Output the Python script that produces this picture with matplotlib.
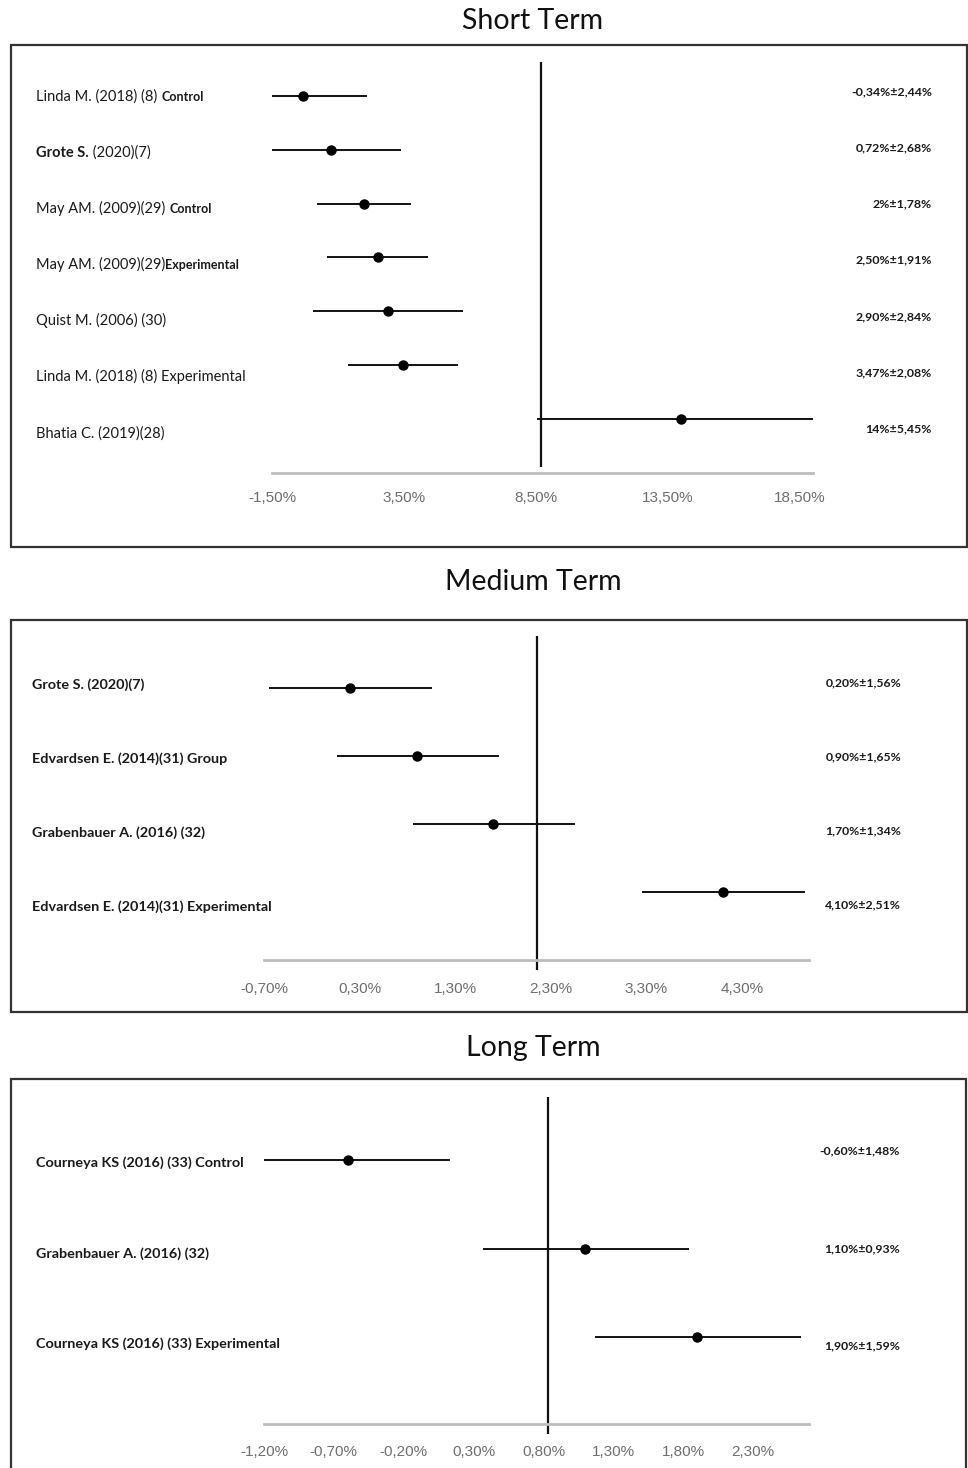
import matplotlib
matplotlib.use("Agg")
import matplotlib.pyplot as plt
from matplotlib.patches import Rectangle

# ---------------- data ----------------
short_labels = [
    [("Linda M. (2018) (8) ", "normal"), ("Control", "bold")],
    [("Grote S.", "bold"), (" (2020)(7)", "normal")],
    [("May AM. (2009)(29) ", "normal"), ("Control", "bold")],
    [("May AM. (2009)(29)", "normal"), ("Experimental", "bold")],
    [("Quist M. (2006) (30)", "normal")],
    [("Linda M. (2018) (8) Experimental", "normal")],
    [("Bhatia C. (2019)(28)", "normal")],
]
short_mean = [-0.34, 0.72, 2.00, 2.50, 2.90, 3.47, 14.00]
short_sd = [2.44, 2.68, 1.78, 1.91, 2.84, 2.08, 5.45]
short_text = ["-0,34%\u00b12,44%", "0,72%\u00b12,68%", "2%\u00b11,78%", "2,50%\u00b11,91%",
              "2,90%\u00b12,84%", "3,47%\u00b12,08%", "14%\u00b15,45%"]
short_ticks = [-1.5, 3.5, 8.5, 13.5, 18.5]
short_ticklabels = ["-1,50%", "3,50%", "8,50%", "13,50%", "18,50%"]
short_ref = 8.7

medium_labels = ["Grote S. (2020)(7)", "Edvardsen E. (2014)(31) Group",
                 "Grabenbauer A. (2016) (32)", "Edvardsen E. (2014)(31) Experimental"]
medium_mean = [0.20, 0.90, 1.70, 4.10]
medium_low = [-0.65, 0.06, 0.86, 3.25]
medium_high = [1.06, 1.76, 2.55, 4.96]
medium_text = ["0,20%\u00b11,56%", "0,90%\u00b11,65%", "1,70%\u00b11,34%", "4,10%\u00b12,51%"]
medium_ticks = [-0.7, 0.3, 1.3, 2.3, 3.3, 4.3]
medium_ticklabels = ["-0,70%", "0,30%", "1,30%", "2,30%", "3,30%", "4,30%"]
medium_ref = 2.16

long_labels = ["Courneya KS (2016) (33) Control", "Grabenbauer A. (2016) (32)",
               "Courneya KS (2016) (33) Experimental"]
long_mean = [-0.60, 1.10, 1.90]
long_low = [-1.33, 0.37, 1.17]
long_high = [0.13, 1.84, 2.64]
long_text = ["-0,60%\u00b11,48%", "1,10%\u00b10,93%", "1,90%\u00b11,59%"]
long_ticks = [-1.2, -0.7, -0.2, 0.3, 0.8, 1.3, 1.8, 2.3]
long_ticklabels = ["-1,20%", "-0,70%", "-0,20%", "0,30%", "0,80%", "1,30%", "1,80%", "2,30%"]
long_ref = 0.83

# ---------------- layout ----------------
W, H = 968, 1468
fig = plt.figure(figsize=(W / 100, H / 100), dpi=100)
fig.patch.set_facecolor("white")

LABEL_FONT = "Lato"
TICK_FONT = "Liberation Sans"
TXT = "#1a1a1a"


def fx(px):
    return px / W


def fy(py):
    return 1 - py / H


def panel(title, title_y, box, ax_x, row0, row_gap, ylim, xlim, ticks, ticklabels,
          tickpad, ref, ref_span):
    bx0, by0, bx1, by1 = box
    fig.patches.append(Rectangle((fx(bx0), fy(by1)), fx(bx1 - bx0), (by1 - by0) / H,
                                 transform=fig.transFigure, fill=False,
                                 edgecolor="#333333", lw=1.6, zorder=0))
    fig.text(fx(533), fy(title_y), title, ha="center", va="center",
             fontsize=20.5, family=LABEL_FONT, color="#111111")
    top_px = row0 + ylim[1] * row_gap
    bot_px = row0 + ylim[0] * row_gap
    ax = fig.add_axes([fx(ax_x[0]), fy(bot_px), fx(ax_x[1] - ax_x[0]), (bot_px - top_px) / H])
    ax.set_xlim(*xlim)
    ax.set_ylim(*ylim)
    ax.patch.set_alpha(0)
    for s in ("top", "left", "right"):
        ax.spines[s].set_visible(False)
    ax.spines["bottom"].set_color("#bdbdbd")
    ax.spines["bottom"].set_linewidth(2.0)
    ax.set_yticks([])
    ax.set_xticks(ticks)
    ax.set_xticklabels(ticklabels, family=TICK_FONT, fontsize=11, color="#6e6e6e")
    ax.tick_params(axis="x", length=0, pad=tickpad)
    ax.vlines(ref, ref_span[0], ref_span[1], color="#111111", lw=1.6, clip_on=False, zorder=2)
    return ax


def draw_rows(ax, means, lows, highs):
    n = len(means)
    for i in range(n):
        ax.plot([lows[i], highs[i]], [i, i], color="#111111", lw=1.4, zorder=3,
                solid_capstyle="butt")
    ax.plot(means, list(range(n)), "o", color="black", ms=6.5, zorder=4)


def mixed_label(x_px, y_px, parts, base_size, small_size):
    prev = None
    for txt, wt, small in parts:
        size = small_size if small else base_size
        if prev is None:
            prev = fig.text(fx(x_px), fy(y_px), txt, ha="left", va="baseline",
                            fontsize=size, fontweight=wt, family=LABEL_FONT, color=TXT)
        else:
            prev = fig.text(0, 0, txt, ha="left", va="baseline", fontsize=size, fontweight=wt,
                            family=LABEL_FONT, color=TXT)
            prev._anchor_prev = True
    return None


def chain_label(x_px, y_px, parts, base_size, small_size):
    first = None
    prev = None
    for txt, wt, small in parts:
        size = small_size if small else base_size
        if prev is None:
            prev = fig.text(fx(x_px), fy(y_px), txt, ha="left", va="baseline",
                            fontsize=size, fontweight=wt, family=LABEL_FONT, color=TXT)
        else:
            prev = fig.text(0, 0, txt, ha="left", va="baseline", fontsize=size, fontweight=wt,
                            family=LABEL_FONT, color=TXT)
        chained.append(prev)
    groups.append(list(chained[-len(parts):]))


chained = []
groups = []

# ---------- Short term ----------
ax1 = panel("Short Term", 21, (11, 45, 967, 547), (272, 813), 96, 53.8, (7.0, -0.7),
            (-1.5, 19.0), short_ticks, short_ticklabels, 13.5, short_ref, (6.9, -0.63))
lows1 = [m - s for m, s in zip(short_mean, short_sd)]
highs1 = [m + s for m, s in zip(short_mean, short_sd)]
draw_rows(ax1, short_mean, lows1, highs1)
for i, lab in enumerate(short_labels):
    parts = []
    for txt, wt in lab:
        small = (wt == "bold" and not txt.startswith("Grote"))
        parts.append((txt, wt, small))
    chain_label(36, 96 + i * 56.1 + 4.7, parts, 10.5, 9.0)
for i, v in enumerate(short_text):
    fig.text(fx(932), fy(91 + i * 56.1), v, ha="right", va="center_baseline",
             fontsize=8.9, fontweight="bold", family=LABEL_FONT, color=TXT)

# ---------- Medium term ----------
ax2 = panel("Medium Term", 582, (11, 620, 967, 1012), (264, 809), 688, 68, (4.0, -0.8),
            (-0.7, 5.0), medium_ticks, medium_ticklabels, 15.5, medium_ref, (4.15, -0.76))
draw_rows(ax2, medium_mean, medium_low, medium_high)
for i, lab in enumerate(medium_labels):
    fig.text(fx(32), fy(684 + i * 74), lab, ha="left", va="center_baseline",
             fontsize=10.4, fontweight="bold", family=LABEL_FONT, color=TXT)
for i, v in enumerate(medium_text):
    fig.text(fx(901), fy(682 + i * 74), v, ha="right", va="center_baseline",
             fontsize=8.8, fontweight="bold", family=LABEL_FONT, color=TXT)

# ---------- Long term ----------
ax3 = panel("Long Term", 1048, (11, 1079, 966, 1490), (264, 809), 1160, 88.5, (2.98, -0.75),
            (-1.2, 2.7), long_ticks, long_ticklabels, 15.5, long_ref, (3.1, -0.71))
draw_rows(ax3, long_mean, long_low, long_high)
for i, lab in enumerate(long_labels):
    fig.text(fx(36), fy(1162 + i * 90.5), lab, ha="left", va="center_baseline",
             fontsize=10.4, fontweight="bold", family=LABEL_FONT, color=TXT)
long_val_y = [1150, 1248, 1345]
for i, v in enumerate(long_text):
    fig.text(fx(900), fy(long_val_y[i]), v, ha="right", va="center_baseline",
             fontsize=8.8, fontweight="bold", family=LABEL_FONT, color=TXT)

# position chained (mixed-weight) label parts one after another
fig.canvas.draw()
renderer = fig.canvas.get_renderer()
for grp in groups:
    for a, b in zip(grp[:-1], grp[1:]):
        bb = a.get_window_extent(renderer)
        x_end = fig.transFigure.inverted().transform((bb.x1, 0))[0]
        b.set_position((x_end, a.get_position()[1]))

fig.savefig("out.png", dpi=100, facecolor="white")
